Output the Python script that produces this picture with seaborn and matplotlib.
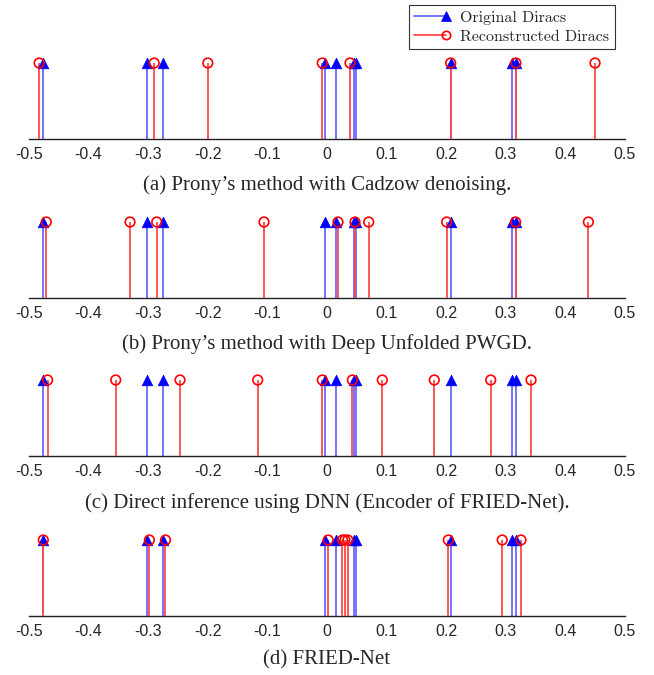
import numpy as np
import pandas as pd
import matplotlib
matplotlib.use("Agg")
import matplotlib.pyplot as plt
import seaborn as sns
from matplotlib.lines import Line2D
from matplotlib.legend_handler import HandlerBase

sns.set_style("white")
plt.rcParams['font.family'] = ['DejaVu Sans']

original = [-0.477, -0.3025, -0.275, -0.003, 0.0146, 0.045, 0.048, 0.2075, 0.311, 0.3165]
recon_a = [-0.483, -0.290, -0.200, -0.008, 0.0386, 0.2075, 0.317, 0.4497]
recon_b = [-0.471, -0.3305, -0.2857, -0.1057, 0.0185, 0.047, 0.070, 0.2008, 0.3165, 0.4385]
recon_c = [-0.4687, -0.3545, -0.2466, -0.1163, -0.0079, 0.0425, 0.0928, 0.180, 0.2747, 0.3423]
recon_d = [-0.476, -0.298, -0.271, 0.002, 0.026, 0.030, 0.035, 0.2036, 0.294, 0.3255]
recons = [recon_a, recon_b, recon_c, recon_d]
captions = ["(a) Prony\u2019s method with Cadzow denoising.",
            "(b) Prony\u2019s method with Deep Unfolded PWGD.",
            "(c) Direct inference using DNN (Encoder of FRIED-Net).",
            "(d) FRIED-Net"]
xticks = [-0.5, -0.4, -0.3, -0.2, -0.1, 0, 0.1, 0.2, 0.3, 0.4, 0.5]
xticklabels = ["-0.5", "-0.4", "-0.3", "-0.2", "-0.1", "0", "0.1", "0.2", "0.3", "0.4", "0.5"]
amp = 1.0

W, H = 654, 675
fig = plt.figure(figsize=(W / 100, H / 100), dpi=100)

axis_y = [139, 298, 456, 616]
caption_y = [185, 344, 503, 660]
left_px, right_px = 29, 625
unit_px = 76
ymax = 1.15

blue_line = "#6a6aff"
red_line = "#ff4a4a"

for i, (rec, cap) in enumerate(zip(recons, captions)):
    bottom = (H - axis_y[i]) / H
    height = unit_px * ymax / H
    ax = fig.add_axes([left_px / W, bottom, (right_px - left_px) / W, height])
    df_o = pd.DataFrame({"x": original, "y": [amp] * len(original)})
    df_r = pd.DataFrame({"x": rec, "y": [amp] * len(rec)})
    ax.vlines(df_o["x"], 0, df_o["y"], color=blue_line, lw=1.3, zorder=2)
    ax.vlines(df_r["x"], 0, df_r["y"], color=red_line, lw=1.3, zorder=3)
    sns.scatterplot(data=df_o, x="x", y="y", ax=ax, marker="^", s=58,
                    color="#0000ff", edgecolor="#0000ff", linewidth=0.5, zorder=4, legend=False)
    sns.scatterplot(data=df_r, x="x", y="y", ax=ax, marker="o", s=48,
                    facecolor="none", edgecolor="#ff0000", linewidth=1.2, zorder=5, legend=False)
    ax.set_xlim(-0.5, 0.5)
    ax.set_ylim(0, ymax)
    ax.set_xlabel("")
    ax.set_ylabel("")
    ax.set_yticks([])
    ax.set_xticks(xticks)
    ax.set_xticklabels(xticklabels, fontsize=11.5, fontfamily="Liberation Sans")
    ax.tick_params(axis="x", direction="in", length=5, width=0.8, color="#222222", pad=6)
    for s in ["top", "left", "right"]:
        ax.spines[s].set_visible(False)
    ax.spines["bottom"].set_color("#222222")
    ax.spines["bottom"].set_linewidth(1.0)
    ax.patch.set_alpha(0)
    fig.text(0.5, 1 - caption_y[i] / H, cap, ha="center", va="center",
             fontsize=15, fontfamily="Liberation Serif")


class EndMarkerHandler(HandlerBase):
    def create_artists(self, legend, orig_handle, xdescent, ydescent, width, height,
                       fontsize, trans):
        y = height / 2 - ydescent
        x0, x1 = -xdescent, width - xdescent
        ln = Line2D([x0, x1], [y, y], color=orig_handle.get_color(),
                    lw=orig_handle.get_linewidth())
        mk = Line2D([x1], [y], linestyle="none", marker=orig_handle.get_marker(),
                    markersize=orig_handle.get_markersize(),
                    markerfacecolor=orig_handle.get_markerfacecolor(),
                    markeredgecolor=orig_handle.get_markeredgecolor(),
                    markeredgewidth=orig_handle.get_markeredgewidth())
        ln.set_transform(trans)
        mk.set_transform(trans)
        return [ln, mk]


handles = [
    Line2D([0, 1], [0, 0], color=blue_line, lw=1.3, marker="^", markersize=7,
           markerfacecolor="#0000ff", markeredgecolor="#0000ff", markeredgewidth=0.5),
    Line2D([0, 1], [0, 0], color=red_line, lw=1.3, marker="o", markersize=6,
           markerfacecolor="none", markeredgecolor="#ff0000", markeredgewidth=1.2),
]
leg = fig.legend(handles, ["Original Diracs", "Reconstructed Diracs"],
                 loc="upper right", bbox_to_anchor=(615 / W, 1 - 5 / H),
                 frameon=True, fancybox=False, edgecolor="black",
                 prop={"family": "cmr10", "size": 11.5},
                 handlelength=2.0, borderpad=0.35, labelspacing=0.3,
                 handletextpad=0.9, borderaxespad=0,
                 handler_map={Line2D: EndMarkerHandler()})
leg.get_frame().set_linewidth(0.8)

fig.savefig("out.png", dpi=100)
